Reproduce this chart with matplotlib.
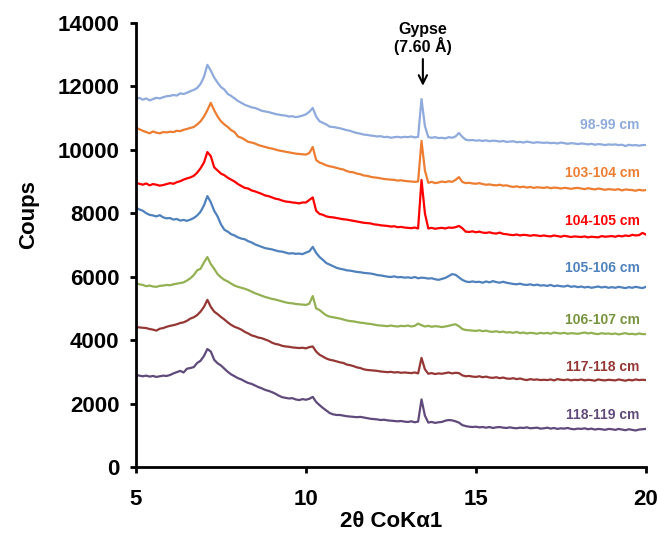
import matplotlib
matplotlib.use("Agg")
import matplotlib.pyplot as plt
import numpy as np

plt.rcParams["font.family"] = ["Liberation Sans", "DejaVu Sans"]
plt.rcParams["font.weight"] = "bold"

# 2-theta sampling (5 to 20, step 0.1)
two_theta = np.linspace(5, 20, 151)

labels = ["98-99 cm", "103-104 cm", "104-105 cm", "105-106 cm",
          "106-107 cm", "117-118 cm", "118-119 cm"]
line_colors = ["#8FAADC", "#ED7D31", "#FF0000", "#4F81BD",
               "#93B153", "#953735", "#604A7B"]
text_colors = ["#8FAADC", "#ED7D31", "#FF0000", "#4F81BD",
               "#77933C", "#953735", "#604A7B"]
label_y = [10780, 9270, 7760, 6270, 4630, 3150, 1640]

s_98_99 = [
    11600, 11640, 11580, 11620, 11560, 11600, 11640, 11620, 11660, 11690,
    11700, 11730, 11710, 11780, 11760, 11800, 11850, 11890, 11950, 12080,
    12300, 12680, 12500, 12280, 12120, 11980, 11900, 11760, 11700, 11620,
    11540, 11480, 11420, 11380, 11340, 11320, 11280, 11230, 11210, 11190,
    11160, 11130, 11110, 11090, 11080, 11050, 11060, 11030, 11050, 11080,
    11120, 11200, 11320, 11050, 10900, 10850, 10800, 10730, 10720, 10700,
    10680, 10650, 10620, 10600, 10560, 10530, 10510, 10480, 10470, 10450,
    10440, 10420, 10430, 10400, 10410, 10380, 10400, 10410, 10390, 10410,
    10400, 10420, 10390, 10410, 11600, 10750, 10400, 10380, 10400, 10370,
    10380, 10360, 10400, 10380, 10420, 10530, 10410, 10320, 10300, 10310,
    10290, 10300, 10280, 10300, 10270, 10290, 10280, 10260, 10280, 10250,
    10260, 10270, 10240, 10250, 10230, 10260, 10240, 10220, 10240, 10230,
    10220, 10230, 10210, 10220, 10200, 10230, 10210, 10190, 10210, 10200,
    10180, 10200, 10190, 10170, 10190, 10160, 10180, 10170, 10150, 10170,
    10160, 10170, 10150, 10160, 10120, 10160, 10140, 10150, 10130, 10150,
    10150,
]
s_103_104 = [
    10690, 10650, 10600, 10560, 10520, 10580, 10540, 10520, 10560, 10550,
    10570, 10560, 10600, 10590, 10630, 10660, 10690, 10720, 10800, 10900,
    11050, 11250, 11480, 11250, 11050, 10900, 10800, 10720, 10620, 10560,
    10420, 10380, 10320, 10250, 10230, 10200, 10150, 10120, 10090, 10060,
    10040, 10010, 9980, 9960, 9940, 9920, 9900, 9880, 9870, 9860,
    9850, 9900, 10090, 9680, 9600, 9560, 9510, 9480, 9460, 9430,
    9400, 9380, 9330, 9300, 9290, 9250, 9230, 9190, 9180, 9150,
    9130, 9120, 9100, 9080, 9070, 9060, 9050, 9030, 9040, 9020,
    9010, 9000, 8990, 9000, 10280, 9350, 8960, 8990, 8950, 8970,
    9000, 8980, 9010, 8990, 9050, 9140, 8990, 8950, 8960, 8940,
    8930, 8950, 8920, 8900, 8910, 8890, 8880, 8900, 8870, 8880,
    8850, 8830, 8850, 8820, 8840, 8810, 8830, 8800, 8820, 8810,
    8800, 8820, 8790, 8810, 8800, 8780, 8800, 8790, 8770, 8790,
    8800, 8780, 8760, 8790, 8770, 8750, 8780, 8760, 8740, 8760,
    8750, 8740, 8760, 8720, 8750, 8740, 8730, 8710, 8740, 8720,
    8730,
]
s_104_105 = [
    8950, 8930, 8900, 8940, 8880, 8920, 8900, 8870, 8890, 8920,
    8950, 8930, 8980, 9010, 9060, 9100, 9130, 9180, 9280, 9420,
    9600, 9930, 9800, 9450, 9350, 9250, 9200, 9120, 9060, 9000,
    8920, 8860, 8800, 8780, 8720, 8690, 8650, 8610, 8560, 8540,
    8500, 8460, 8440, 8400, 8370, 8360, 8340, 8330, 8310, 8340,
    8340, 8420, 8500, 8080, 7980, 7950, 7900, 7880, 7870, 7850,
    7830, 7810, 7800, 7780, 7760, 7740, 7720, 7700, 7690, 7680,
    7650, 7640, 7620, 7610, 7600, 7580, 7590, 7560, 7570, 7550,
    7540, 7530, 7550, 7520, 9050, 8000, 7520, 7540, 7510, 7530,
    7540, 7520, 7550, 7540, 7560, 7600, 7530, 7420, 7410, 7430,
    7400, 7420, 7390, 7380, 7400, 7370, 7360, 7390, 7350, 7340,
    7320, 7310, 7330, 7300, 7320, 7310, 7290, 7310, 7300, 7280,
    7300, 7280, 7270, 7300, 7280, 7260, 7290, 7270, 7250, 7270,
    7260, 7250, 7270, 7240, 7260, 7250, 7240, 7280, 7260, 7270,
    7280, 7260, 7290, 7270, 7300, 7280, 7320, 7300, 7310, 7380,
    7330,
]
s_105_106 = [
    8170, 8120, 8080, 8000, 7950, 7930, 7900, 7940, 7870, 7840,
    7850, 7800, 7820, 7770, 7790, 7760, 7800, 7850, 7930, 8050,
    8250, 8540, 8350, 8080, 7900, 7650, 7480, 7420, 7340, 7300,
    7240, 7200, 7180, 7120, 7080, 7020, 6980, 6940, 6900, 6880,
    6860, 6830, 6800, 6790, 6760, 6730, 6740, 6720, 6730, 6710,
    6760, 6800, 6940, 6750, 6620, 6530, 6430, 6380, 6330, 6280,
    6250, 6230, 6200, 6190, 6170, 6150, 6140, 6120, 6110, 6100,
    6080, 6050, 6040, 6020, 6000, 5990, 6010, 5980, 5990, 5970,
    5980, 5960, 5990, 5950, 5970, 5960, 5940, 5950, 5920, 5900,
    5930, 5960, 6020, 6080, 6060, 5980, 5900, 5850, 5830, 5850,
    5830, 5840, 5810, 5850, 5820, 5860, 5830, 5810, 5840, 5810,
    5790, 5770, 5760, 5780, 5750, 5740, 5760, 5730, 5750, 5720,
    5730, 5710, 5740, 5700, 5720, 5700, 5690, 5720, 5680, 5700,
    5670, 5690, 5660, 5680, 5650, 5670, 5690, 5660, 5680, 5650,
    5670, 5650, 5680, 5660, 5640, 5670, 5650, 5680, 5660, 5640,
    5680,
]
s_106_107 = [
    5800, 5760, 5740, 5700, 5720, 5690, 5680, 5710, 5720, 5740,
    5730, 5760, 5780, 5800, 5820, 5880, 5950, 6050, 6200, 6250,
    6450, 6620, 6400, 6250, 6080, 5980, 5900, 5850, 5780, 5720,
    5680, 5650, 5620, 5580, 5530, 5480, 5440, 5400, 5360, 5330,
    5300, 5280, 5250, 5220, 5190, 5170, 5160, 5140, 5130, 5120,
    5110, 5150, 5390, 5000, 4950, 4860, 4780, 4740, 4720, 4700,
    4680, 4650, 4620, 4600, 4590, 4570, 4550, 4540, 4520, 4510,
    4490, 4470, 4460, 4450, 4440, 4460, 4440, 4430, 4450, 4440,
    4460, 4430, 4450, 4520, 4470, 4430, 4450, 4420, 4440, 4430,
    4410, 4430, 4450, 4480, 4500, 4440, 4350, 4320, 4310, 4300,
    4290, 4310, 4280, 4300, 4270, 4260, 4280, 4250, 4270, 4240,
    4250, 4230, 4260, 4220, 4240, 4210, 4230, 4220, 4200, 4230,
    4210, 4230, 4200, 4240, 4220, 4210, 4230, 4200, 4220, 4210,
    4200, 4220, 4240, 4210, 4230, 4200, 4190, 4220, 4200, 4210,
    4190, 4210, 4180, 4200, 4220, 4190, 4200, 4180, 4210, 4190,
    4190,
]
s_117_118 = [
    4410, 4400, 4390, 4380, 4350, 4330, 4300, 4360, 4380, 4420,
    4450, 4470, 4500, 4540, 4560, 4610, 4680, 4720, 4790, 4900,
    5050, 5270, 5050, 4900, 4820, 4730, 4650, 4560, 4480, 4420,
    4380, 4330, 4260, 4210, 4150, 4120, 4080, 4060, 4020, 3980,
    3920, 3880, 3860, 3820, 3800, 3790, 3770, 3760, 3750, 3760,
    3740, 3780, 3800, 3640, 3540, 3480, 3420, 3380, 3360, 3330,
    3300, 3280, 3230, 3210, 3180, 3140, 3120, 3080, 3060, 3050,
    3040, 3030, 3010, 3000, 2990, 3000, 2980, 2990, 2970, 2980,
    2970, 2960, 2980, 2950, 3440, 3080, 2940, 2960, 2930, 2950,
    2940, 2960, 2980, 2950, 2970, 2960, 2890, 2860, 2870, 2850,
    2840, 2860, 2830, 2850, 2820, 2810, 2830, 2800, 2820, 2790,
    2780, 2800, 2770, 2790, 2760, 2740, 2770, 2750, 2760, 2740,
    2750, 2740, 2760, 2730, 2770, 2750, 2740, 2760, 2730, 2750,
    2740, 2760, 2730, 2750, 2740, 2720, 2760, 2740, 2730, 2750,
    2740, 2730, 2760, 2740, 2720, 2750, 2730, 2760, 2740, 2750,
    2740,
]
s_118_119 = [
    2900, 2880, 2860, 2880, 2850, 2870, 2840, 2860, 2880, 2870,
    2900, 2950, 2990, 3030, 2980, 3100, 3120, 3150, 3280, 3350,
    3500, 3720, 3640, 3380, 3270, 3200, 3100, 3000, 2920, 2860,
    2800, 2760, 2700, 2650, 2620, 2570, 2520, 2480, 2430, 2400,
    2360, 2310, 2250, 2200, 2180, 2160, 2170, 2130, 2110, 2140,
    2120, 2150, 2210, 2050, 1950, 1860, 1780, 1700, 1660, 1640,
    1640, 1620, 1600, 1590, 1580, 1570, 1580, 1560, 1540, 1520,
    1510, 1500, 1480, 1490, 1470, 1460, 1450, 1440, 1450, 1430,
    1420, 1440, 1410, 1430, 2130, 1620, 1400, 1420, 1390, 1410,
    1420, 1460, 1480, 1470, 1440, 1400, 1320, 1290, 1270, 1260,
    1270, 1250, 1260, 1240, 1260, 1230, 1250, 1260, 1240, 1230,
    1250, 1230, 1220, 1240, 1230, 1250, 1220, 1230, 1240, 1210,
    1220, 1240, 1210, 1230, 1200, 1220, 1210, 1230, 1200, 1190,
    1210, 1200, 1220, 1190, 1210, 1180, 1200, 1190, 1170, 1200,
    1190, 1170, 1200, 1180, 1160, 1190, 1170, 1150, 1180, 1190,
    1200,
]
series = [s_98_99, s_103_104, s_104_105, s_105_106,
          s_106_107, s_117_118, s_118_119]

gypse_x = 13.44


def main():
    fig = plt.figure(figsize=(6.57, 5.34), dpi=100)
    ax = fig.add_axes([0.207, 0.1255, 0.776, 0.8315])

    for ys, c in zip(series, line_colors):
        ax.plot(two_theta, ys, color=c, lw=1.6)

    for lab, yl, c in zip(labels, label_y, text_colors):
        ax.text(19.82, yl, lab, color=c, fontsize=10, fontweight="bold",
                ha="right", va="center")

    ax.text(gypse_x, 13500, "Gypse\n(7.60 Å)", fontsize=11.5, fontweight="bold",
            ha="center", va="center", linespacing=1.0)
    ax.annotate("", xy=(gypse_x, 11930), xytext=(gypse_x, 12950),
                arrowprops=dict(arrowstyle="->,head_width=0.3,head_length=0.6",
                                color="black", lw=1.5))

    ax.set_xlim(5, 20)
    ax.set_ylim(0, 14000)
    ax.set_xticks([5, 10, 15, 20])
    ax.set_yticks(range(0, 14001, 2000))

    for side in ["top", "right"]:
        ax.spines[side].set_visible(False)
    for side in ["left", "bottom"]:
        ax.spines[side].set_linewidth(2)

    ax.tick_params(direction="out", length=4, width=2, labelsize=16)
    ax.tick_params(axis="y", pad=8)
    ax.tick_params(axis="x", pad=12)
    for t in ax.get_xticklabels() + ax.get_yticklabels():
        t.set_fontweight("bold")

    ax.set_xlabel("2θ CoKα1", fontsize=16, fontweight="bold")
    ax.set_ylabel("Coups", fontsize=16, fontweight="bold")
    ax.xaxis.set_label_coords(0.5, -0.1)
    ax.yaxis.set_label_coords(-0.19, 0.568)

    fig.savefig("out.png", dpi=100)
    plt.close(fig)


if __name__ == "__main__":
    main()
